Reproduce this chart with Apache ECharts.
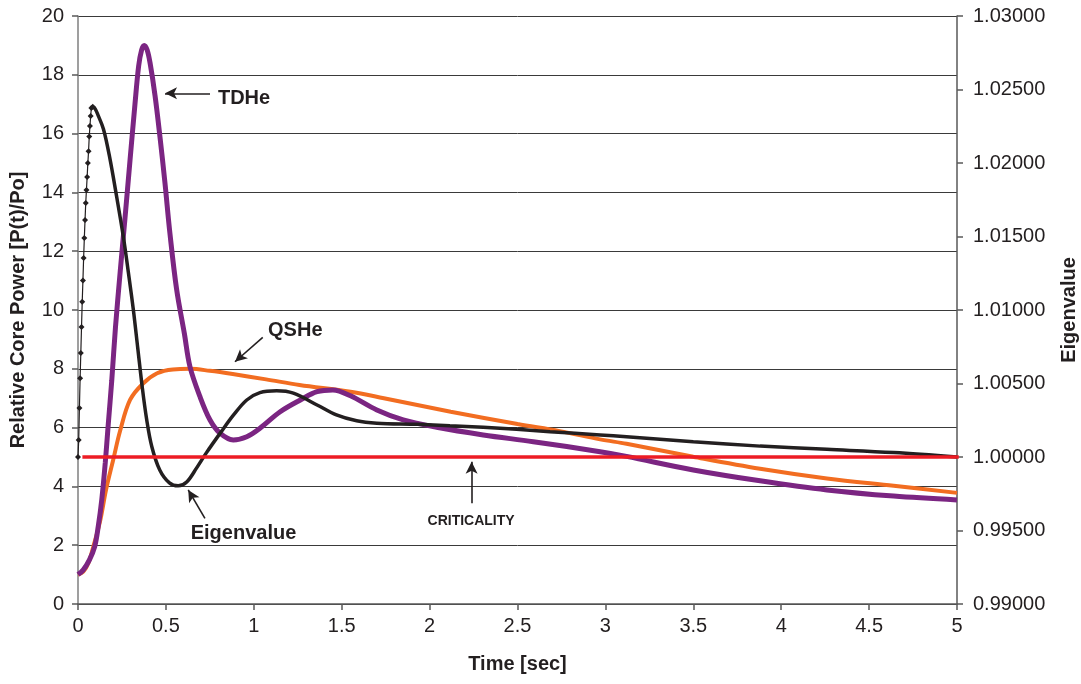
<!DOCTYPE html>
<html>
<head>
<meta charset="utf-8">
<title>Relative Core Power and Eigenvalue</title>
<script src="https://cdn.jsdelivr.net/npm/echarts@6/dist/echarts.min.js"></script>
<style>
  html, body { margin: 0; padding: 0; background: #ffffff; }
  #chart { width: 1081px; height: 684px; }
</style>
</head>
<body>
<div id="chart"></div>
<script>
// Time-dependent helium transient (TDHe), relative core power P(t)/Po
const tdheTime = [0, 0.03, 0.065, 0.095, 0.115, 0.135, 0.155, 0.172, 0.192, 0.213, 0.24, 0.267, 0.296, 0.324, 0.345, 0.362, 0.377, 0.393, 0.41, 0.438, 0.466, 0.495, 0.523, 0.561, 0.605, 0.637, 0.694, 0.751, 0.808, 0.883, 0.96, 1.035, 1.15, 1.265, 1.36, 1.45, 1.55, 1.70, 1.85, 2.04, 2.305, 2.59, 2.97, 3.12, 3.5, 3.88, 4.26, 4.64, 5.0];
const tdhePower = [1.0, 1.16, 1.5, 1.95, 2.63, 3.54, 4.8, 6.1, 7.6, 9.4, 11.3, 13.1, 15.1, 17.0, 18.3, 18.85, 19.0, 18.85, 18.4, 17.3, 15.9, 14.3, 12.6, 10.7, 9.2, 8.07, 7.05, 6.26, 5.81, 5.58, 5.69, 5.98, 6.54, 6.94, 7.22, 7.28, 7.08, 6.6, 6.26, 6.01, 5.75, 5.52, 5.18, 5.02, 4.56, 4.19, 3.88, 3.67, 3.54];

// Quasi-static helium transient (QSHe), relative core power P(t)/Po
const qsheTime = [0, 0.03, 0.06, 0.087, 0.125, 0.16, 0.2, 0.24, 0.296, 0.37, 0.45, 0.54, 0.64, 0.75, 0.88, 1.07, 1.26, 1.55, 1.74, 2.12, 2.5, 2.74, 2.97, 3.12, 3.5, 3.88, 4.26, 4.64, 5.0];
const qshePower = [1.0, 1.1, 1.4, 1.95, 2.8, 3.9, 4.9, 5.9, 6.94, 7.5, 7.85, 7.98, 8.0, 7.93, 7.82, 7.64, 7.45, 7.22, 7.0, 6.54, 6.12, 5.88, 5.6, 5.45, 5.01, 4.6, 4.27, 4.02, 3.78];

// Eigenvalue (secondary axis); the first 21 samples are the coarse start-up steps
const eigenTime = [0, 0.004, 0.008, 0.012, 0.016, 0.02, 0.024, 0.028, 0.032, 0.036, 0.04, 0.044, 0.048, 0.052, 0.056, 0.06, 0.064, 0.068, 0.072, 0.076, 0.084,
  0.097, 0.115, 0.145, 0.18, 0.22, 0.258, 0.286, 0.315, 0.34, 0.365, 0.39, 0.42, 0.465, 0.52, 0.57, 0.62, 0.675, 0.73, 0.81, 0.885, 0.96, 1.035, 1.13, 1.225, 1.36, 1.47, 1.585, 1.7, 1.93, 2.115, 2.305, 2.495, 2.685, 2.97, 3.12, 3.5, 3.88, 4.26, 4.64, 5.0];
const eigenValue = [1.00000, 1.00116, 1.00334, 1.00536, 1.00708, 1.00884, 1.01056, 1.01200, 1.01354, 1.01490, 1.01612, 1.01728, 1.01816, 1.01904, 1.02000, 1.02080, 1.02180, 1.02252, 1.02320, 1.02374, 1.02382,
  1.02370, 1.02322, 1.02230, 1.02040, 1.01770, 1.01498, 1.01260, 1.01000, 1.00740, 1.00480, 1.00260, 1.00070, 0.99912, 0.99824, 0.99804, 0.99832, 0.99926, 1.00028, 1.00164, 1.00286, 1.00388, 1.00438, 1.00450, 1.00434, 1.00354, 1.00286, 1.00246, 1.00230, 1.00222, 1.00212, 1.00202, 1.00188, 1.00172, 1.00150, 1.00138, 1.00104, 1.00074, 1.00052, 1.00030, 1.00000];
const eigenCoarseCount = 21;

// Criticality reference (eigenvalue = 1)
const critTime = [0.035, 5.0];
const critValue = [1.0, 1.0];

// Axis ticks
const powerTicks = { min: 0, max: 20, step: 2 };
const eigenTicks = { min: 0.99, max: 1.03, step: 0.005 };
const timeTicks = { min: 0, max: 5, step: 0.5 };

// Callout labels and arrows, in (time, power) units
const callouts = [
  { text: 'TDHe', size: 20, align: 'left', at: [0.796, 17.2], from: [0.751, 17.37], to: [0.495, 17.37] },
  { text: 'QSHe', size: 20, align: 'left', at: [1.081, 9.3], from: [1.051, 9.07], to: [0.893, 8.24] },
  { text: 'Eigenvalue', size: 20, align: 'left', at: [0.641, 2.4], from: [0.722, 2.91], to: [0.627, 3.88] },
  { text: 'CRITICALITY', size: 14, align: 'center', at: [2.236, 2.82], from: [2.239, 3.43], to: [2.239, 4.84] }
];

const zip = (xs, ys) => xs.map((x, i) => [x, ys[i]]);
const FONT = "'Liberation Sans', Arial, sans-serif";
const INK = '#231f20';
const AXIS = '#595959';

const eigenPairs = zip(eigenTime, eigenValue);

const chart = echarts.init(document.getElementById('chart'));

const option = {
  animation: false,
  backgroundColor: '#ffffff',
  textStyle: { fontFamily: FONT, color: INK },
  grid: { left: 78, right: 124, top: 16, bottom: 80, containLabel: false, outerBoundsMode: 'none' },
  xAxis: {
    type: 'value',
    min: timeTicks.min, max: timeTicks.max, interval: timeTicks.step,
    name: 'Time [sec]', nameLocation: 'middle', nameGap: 50,
    nameTextStyle: { fontFamily: FONT, fontSize: 20, fontWeight: 'bold', color: INK },
    axisLine: { show: true, onZero: false, lineStyle: { color: AXIS, width: 1.5 } },
    axisTick: { show: true, inside: false, length: 6, lineStyle: { color: AXIS, width: 1.5 } },
    axisLabel: { fontFamily: FONT, fontSize: 20, color: INK, margin: 12 },
    splitLine: { show: false }
  },
  yAxis: [
    {
      type: 'value', position: 'left',
      min: powerTicks.min, max: powerTicks.max, interval: powerTicks.step,
      name: 'Relative Core Power [P(t)/Po]', nameLocation: 'middle', nameGap: 50, nameRotate: 90,
      nameTextStyle: { fontFamily: FONT, fontSize: 20, fontWeight: 'bold', color: INK },
      axisLine: { show: true, lineStyle: { color: '#7f7f7f', width: 1.5 } },
      axisTick: { show: true, inside: false, length: 6, lineStyle: { color: AXIS, width: 1.5 } },
      axisLabel: { fontFamily: FONT, fontSize: 20, color: INK, margin: 14 },
      splitLine: { show: true, lineStyle: { color: '#3a3a3a', width: 1 } }
    },
    {
      type: 'value', position: 'right',
      min: eigenTicks.min, max: eigenTicks.max, interval: eigenTicks.step,
      name: 'Eigenvalue', nameLocation: 'middle', nameGap: 102, nameRotate: 90,
      nameTextStyle: { fontFamily: FONT, fontSize: 20, fontWeight: 'bold', color: INK },
      axisLine: { show: true, lineStyle: { color: AXIS, width: 1.5 } },
      axisTick: { show: true, inside: false, length: 6, lineStyle: { color: AXIS, width: 1.5 } },
      axisLabel: { fontFamily: FONT, fontSize: 20, color: INK, margin: 16,
        formatter: v => v.toFixed(5) },
      splitLine: { show: false }
    }
  ],
  series: [
    {
      name: 'QSHe', type: 'line', yAxisIndex: 0,
      data: zip(qsheTime, qshePower),
      smooth: 0.35, showSymbol: false, symbol: 'none',
      lineStyle: { color: '#f26d21', width: 4 }, z: 3
    },
    {
      name: 'TDHe', type: 'line', yAxisIndex: 0,
      data: zip(tdheTime, tdhePower),
      smooth: 0.35, showSymbol: false, symbol: 'none',
      lineStyle: { color: '#7b2582', width: 5 }, z: 4
    },
    {
      name: 'Eigenvalue', type: 'line', yAxisIndex: 1,
      data: eigenPairs.slice(eigenCoarseCount - 1),
      smooth: 0.35, showSymbol: false, symbol: 'none',
      lineStyle: { color: INK, width: 3.5 }, z: 5
    },
    {
      name: 'Eigenvalue start-up', type: 'line', yAxisIndex: 1,
      data: eigenPairs.slice(0, eigenCoarseCount),
      symbol: 'diamond', symbolSize: 6, showSymbol: true,
      itemStyle: { color: INK },
      lineStyle: { color: INK, width: 1.2 }, z: 5
    },
    {
      name: 'Criticality', type: 'line', yAxisIndex: 1,
      data: zip(critTime, critValue),
      symbol: 'none',
      lineStyle: { color: '#ed1c24', width: 3.5, cap: 'square' }, z: 6
    },
    {
      name: 'callouts', type: 'line', yAxisIndex: 0, data: [],
      markLine: {
        silent: true, animation: false,
        symbol: ['none', 'arrow'], symbolSize: [9, 12],
        label: { show: false },
        lineStyle: { color: INK, width: 1.6, type: 'solid' },
        data: callouts.map(c => [{ coord: c.from }, { coord: c.to }])
      },
      z: 7
    }
  ]
};

chart.setOption(option);

// Place callout texts at their data positions
const texts = callouts.map(c => {
  const p = chart.convertToPixel({ xAxisIndex: 0, yAxisIndex: 0 }, c.at);
  return {
    type: 'text', x: p[0], y: p[1], z: 10,
    style: {
      text: c.text, fontFamily: FONT, fontSize: c.size, fontWeight: 'bold',
      fill: INK, align: c.align, verticalAlign: 'middle'
    }
  };
});
chart.setOption({ graphic: texts });
</script>
</body>
</html>
